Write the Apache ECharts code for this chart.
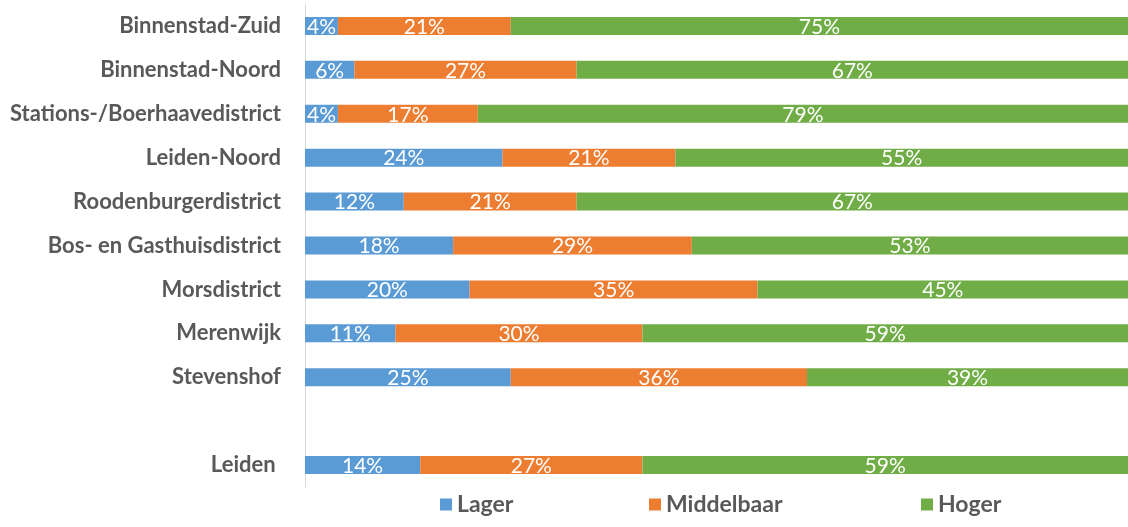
<!DOCTYPE html>
<html><head><meta charset="utf-8">
<script src="https://cdn.jsdelivr.net/npm/echarts@6/dist/echarts.min.js"></script>
<style>html,body{margin:0;padding:0;background:#fff}#c{width:1128px;height:527px}</style>
</head><body><div id="c"></div>
<script>
const categories = ['Binnenstad-Zuid','Binnenstad-Noord','Stations-/Boerhaavedistrict','Leiden-Noord','Roodenburgerdistrict','Bos- en Gasthuisdistrict','Morsdistrict','Merenwijk','Stevenshof','','Leiden '];
const lager = [4,6,4,24,12,18,20,11,25,null,14];
const middelbaar = [21,27,17,21,21,29,35,30,36,null,27];
const hoger = [75,67,79,55,67,53,45,59,39,null,59];
const seriesNames = ['Lager','Middelbaar','Hoger'];
const colors = ['#5b9bd5','#ed7d31','#70ad47'];
const FONT = 'Lato';
const chart = echarts.init(document.getElementById('c'));
const mk = (name, data, color) => ({
  name, type:'bar', stack:'t', data, barWidth:18,
  itemStyle:{color},
  label:{show:true, position:'inside', color:'#fff', fontSize:21, fontFamily:FONT, formatter: p => p.value + '%', offset:[0,1]}
});
const legendBase = {top:493, padding:0, itemWidth:12, itemHeight:12, icon:'rect', textStyle:{fontSize:23, fontWeight:'bold', color:'#595959', fontFamily:FONT}};
chart.setOption({
  animation:false,
  grid:{left:305, right:0, top:4, bottom:40, containLabel:false},
  xAxis:{type:'value', min:0, max:100, show:false},
  yAxis:{type:'category', data:categories, inverse:true,
    axisLine:{show:true, lineStyle:{color:'#d9d9d9', width:1}},
    axisTick:{show:false},
    axisLabel:{fontSize:22, fontWeight:'bold', color:'#595959', fontFamily:FONT, margin:24}},
  legend:[
    Object.assign({}, legendBase, {left:440, data:[seriesNames[0]]}),
    Object.assign({}, legendBase, {left:649, data:[seriesNames[1]]}),
    Object.assign({}, legendBase, {left:921, data:[seriesNames[2]]})
  ],
  series:[mk(seriesNames[0], lager, colors[0]), mk(seriesNames[1], middelbaar, colors[1]), mk(seriesNames[2], hoger, colors[2])]
});
</script></body></html>
